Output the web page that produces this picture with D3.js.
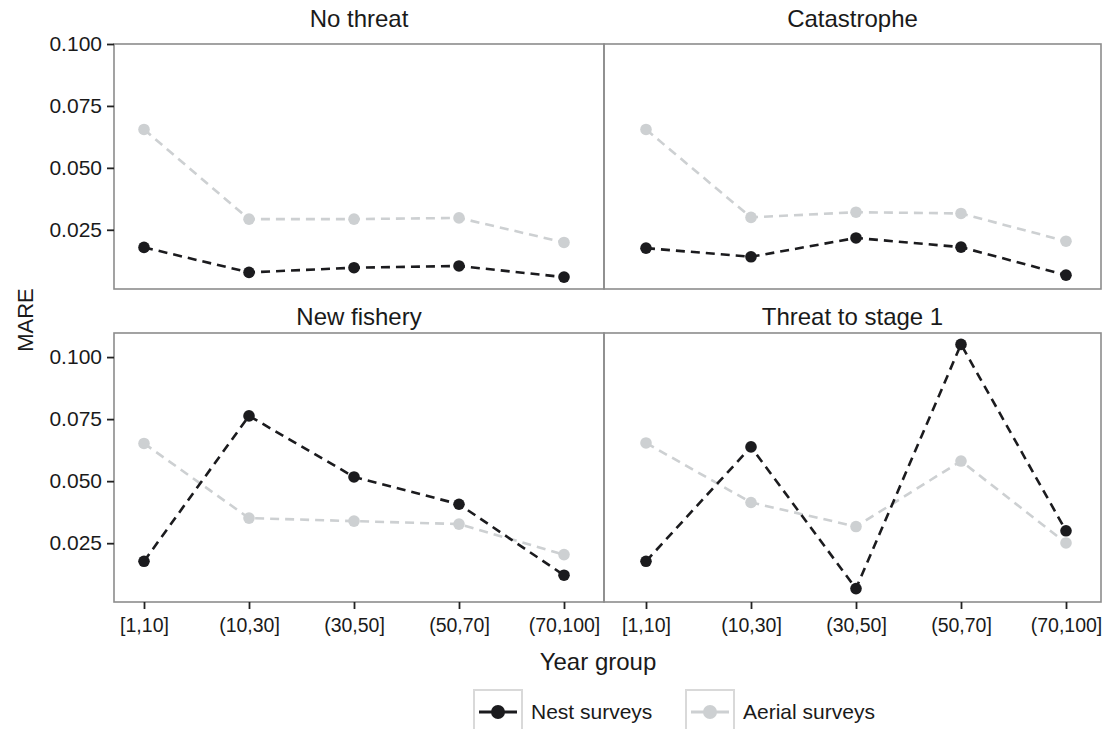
<!DOCTYPE html>
<html>
<head>
<meta charset="utf-8">
<script src="https://cdn.jsdelivr.net/npm/d3@7"></script>
<style>
	body { margin: 0; background: #fff; }
	text { font-family: "Liberation Sans", Arial, Helvetica, sans-serif; fill: #1a1a1a; }
</style>
</head>
<body>
<div id="chart"></div>
<script>
// year groups on the x axis
var groups = ["[1,10]", "(10,30]", "(30,50]", "(50,70]", "(70,100]"];
// panel titles
var scenarios = ["No threat", "Catastrophe", "New fishery", "Threat to stage 1"];
var yTicks = [0.025, 0.050, 0.075, 0.100];

// MARE per year group
var nestNoThreat = [0.0179, 0.0078, 0.0097, 0.0104, 0.0059];
var aerialNoThreat = [0.0655, 0.0293, 0.0293, 0.0298, 0.0199];
var nestCatastrophe = [0.0176, 0.0141, 0.0217, 0.0180, 0.0067];
var aerialCatastrophe = [0.0655, 0.0300, 0.0321, 0.0316, 0.0204];
var nestFishery = [0.0177, 0.0763, 0.0517, 0.0407, 0.0121];
var aerialFishery = [0.0652, 0.0351, 0.0339, 0.0327, 0.0204];
var nestStage1 = [0.0177, 0.0638, 0.0067, 0.1051, 0.0300];
var aerialStage1 = [0.0654, 0.0414, 0.0317, 0.0581, 0.0251];

var nestColor = "#1b1b1e";
var aerialColor = "#cdd0d2";

var width = 1102, height = 729;

var svg = d3.select("#chart").append("svg")
	.attr("width", width)
	.attr("height", height);

// panel layout: two columns, two rows
var cols = [{x0: 114, x1: 604, p0: 144, p1: 564}, {x0: 604, x1: 1101, p0: 646, p1: 1066}];
var rows = [{y0: 44, y1: 289, d: [0.0011, 0.100], title: 27}, {y0: 333, y1: 602, d: [0.0013, 0.1097], title: 325}];

var panels = [
	{name: scenarios[0], col: 0, row: 0, nest: nestNoThreat, aerial: aerialNoThreat},
	{name: scenarios[1], col: 1, row: 0, nest: nestCatastrophe, aerial: aerialCatastrophe},
	{name: scenarios[2], col: 0, row: 1, nest: nestFishery, aerial: aerialFishery},
	{name: scenarios[3], col: 1, row: 1, nest: nestStage1, aerial: aerialStage1}
];

panels.forEach(function(p){
	var c = cols[p.col], r = rows[p.row];
	var x = d3.scalePoint().domain(groups).range([c.p0, c.p1]);
	var y = d3.scaleLinear().domain(r.d).range([r.y1, r.y0]);

	var g = svg.append("g").attr("class", "panel");

	// panel border
	g.append("rect")
		.attr("x", c.x0)
		.attr("y", r.y0)
		.attr("width", c.x1 - c.x0)
		.attr("height", r.y1 - r.y0)
		.style("fill", "none")
		.style("stroke", "#8c8c8c")
		.style("stroke-width", 1.6);

	// strip title
	g.append("text")
		.attr("x", (c.x0 + c.x1) / 2)
		.attr("y", r.title)
		.attr("text-anchor", "middle")
		.style("font-size", "24px")
		.text(p.name);

	// y axis only on left column
	if (p.col == 0) {
		var ya = g.append("g")
			.attr("transform", "translate(" + c.x0 + ",0)")
			.call(d3.axisLeft(y).tickValues(yTicks).tickFormat(d3.format(".3f")).tickSize(7).tickPadding(5));
		ya.select(".domain").remove();
		ya.selectAll("line").style("stroke", "#222").style("stroke-width", 1.8);
		ya.selectAll("text").style("font-size", "21px").style("font-family", null).attr("fill", "#1a1a1a");
	}

	// x axis only on bottom row
	if (p.row == 1) {
		var xa = g.append("g")
			.attr("transform", "translate(0," + r.y1 + ")")
			.call(d3.axisBottom(x).tickSize(7).tickPadding(9));
		xa.select(".domain").remove();
		xa.selectAll("line").style("stroke", "#222").style("stroke-width", 1.8);
		xa.selectAll("text").style("font-size", "19.5px").style("font-family", null).attr("fill", "#1a1a1a");
	}

	var line = d3.line()
		.x(function(d, i){ return x(groups[i]); })
		.y(function(d){ return y(d); });

	// aerial first, nest drawn on top
	[{vals: p.aerial, color: aerialColor}, {vals: p.nest, color: nestColor}].forEach(function(s){
		g.append("path")
			.datum(s.vals)
			.attr("d", line)
			.style("fill", "none")
			.style("stroke", s.color)
			.style("stroke-width", 2.6)
			.style("stroke-dasharray", "9,6");
		g.selectAll(null)
			.data(s.vals)
			.enter().append("circle")
			.attr("cx", function(d, i){ return x(groups[i]); })
			.attr("cy", function(d){ return y(d); })
			.attr("r", 5.8)
			.style("fill", s.color);
	});
});

// axis titles
svg.append("text")
	.attr("x", 598)
	.attr("y", 670)
	.attr("text-anchor", "middle")
	.style("font-size", "24px")
	.text("Year group");

svg.append("text")
	.attr("transform", "translate(33,320) rotate(-90)")
	.attr("text-anchor", "middle")
	.style("font-size", "22px")
	.text("MARE");

// legend
var legendItems = [{label: "Nest surveys", color: nestColor, x: 474}, {label: "Aerial surveys", color: aerialColor, x: 686}];
var legend = svg.selectAll(".legend")
	.data(legendItems)
	.enter().append("g")
	.attr("class", "legend")
	.attr("transform", function(d){ return "translate(" + d.x + ",690)"; });

legend.append("rect")
	.attr("width", 48)
	.attr("height", 50)
	.style("fill", "#fff")
	.style("stroke", "#d9d9d9")
	.style("stroke-width", 2);

legend.append("line")
	.attr("x1", 5).attr("x2", 43)
	.attr("y1", 22).attr("y2", 22)
	.style("stroke", function(d){ return d.color; })
	.style("stroke-width", 2.8);

legend.append("circle")
	.attr("cx", 24).attr("cy", 22).attr("r", 7)
	.style("fill", function(d){ return d.color; });

legend.append("text")
	.attr("x", 57)
	.attr("y", 29)
	.style("font-size", "21px")
	.text(function(d){ return d.label; });
</script>
</body>
</html>
